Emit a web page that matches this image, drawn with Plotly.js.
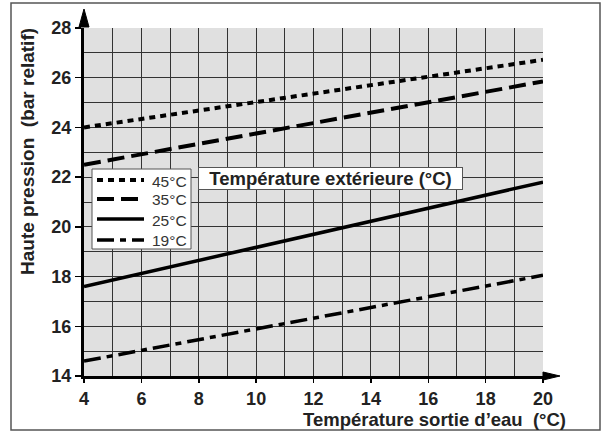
<!DOCTYPE html>
<html>
<head>
<meta charset="utf-8">
<script src="https://cdn.plot.ly/plotly-3.0.1.min.js"></script>
<style>html,body{margin:0;padding:0;background:#fff;}#chart{width:608px;height:432px;}</style>
</head>
<body>
<div id="chart"></div>
<script>
// Data
const waterTemp = [4, 20];
const seriesNames = ['45°C', '35°C', '25°C', '19°C'];
const p45 = [24.0, 26.72];
const p35 = [22.5, 25.85];
const p25 = [17.6, 21.8];
const p19 = [14.6, 18.05];
const xTicks = [4, 6, 8, 10, 12, 14, 16, 18, 20];
const yTicks = [14, 16, 18, 20, 22, 24, 26, 28];

// Styles
const dashes = ['6px,5px', '17px,7px', 'solid', '17px,6px,6px,6px'];
const widths = [4, 4, 3.5, 3.5];
const series = [p45, p35, p25, p19];

const traces = series.map((vals, i) => ({
  x: waterTemp, y: vals, name: seriesNames[i], type: 'scatter', mode: 'lines',
  line: {color: '#000', width: widths[i], dash: dashes[i]}, hoverinfo: 'skip', showlegend: false
}));

const font = 'Liberation Sans, Arial, Helvetica, sans-serif';
const L = 84, T = 28, pw = 459, ph = 348;
const px = v => (v - L) / pw;          // pixel -> paper x
const py = v => (T + ph - v) / ph;     // pixel -> paper y

const shapes = [
  // outer frame
  {type: 'rect', xref: 'paper', yref: 'paper', layer: 'below',
   x0: px(11), x1: px(600), y0: py(430), y1: py(3),
   line: {color: '#555', width: 1.5}, fillcolor: 'rgba(0,0,0,0)'},
  // legend box
  {type: 'rect', xref: 'paper', yref: 'paper', layer: 'above',
   x0: px(92), x1: px(191), y0: py(249), y1: py(169),
   line: {color: '#555', width: 1}, fillcolor: '#fff'},
  // y-axis arrowhead
  {type: 'path', xref: 'paper', yref: 'paper', xsizemode: 'pixel', ysizemode: 'pixel',
   xanchor: 0, yanchor: 1, layer: 'above',
   path: 'M-5,1 L0,19 L5,1 Z', fillcolor: '#000', line: {color: '#000', width: 1}},
  // x-axis arrowhead
  {type: 'path', xref: 'paper', yref: 'paper', xsizemode: 'pixel', ysizemode: 'pixel',
   xanchor: 1, yanchor: 0, layer: 'above',
   path: 'M0,-4 L17,0 L0,4 Z', fillcolor: '#000', line: {color: '#000', width: 1}}
];

const legendY = [180, 199, 219, 240];
const annotations = [
  {xref: 'paper', yref: 'paper', x: px(27), y: py(152), textangle: -90,
   xanchor: 'center', yanchor: 'middle',
   text: 'Haute pression  (bar relatif)', showarrow: false,
   font: {family: font, size: 19, color: '#222', weight: 'bold'}},
  {xref: 'paper', yref: 'paper', x: px(568), y: py(419), xanchor: 'right', yanchor: 'middle',
   text: 'Température sortie d’eau  (°C)', showarrow: false,
   font: {family: font, size: 18.5, color: '#222', weight: 'bold'}},
  {xref: 'paper', yref: 'paper', x: px(198), y: py(178), xanchor: 'left', yanchor: 'middle',
   text: '  Température extérieure (°C)  ', showarrow: false,
   bgcolor: '#fff', bordercolor: '#555', borderwidth: 1, borderpad: 0,
   font: {family: font, size: 18.5, color: '#222', weight: 'bold'}}
];

seriesNames.forEach((name, i) => {
  shapes.push({type: 'line', xref: 'paper', yref: 'paper', layer: 'above',
    x0: px(97), x1: px(144), y0: py(legendY[i]), y1: py(legendY[i]),
    line: {color: '#000', width: widths[i], dash: dashes[i]}});
  annotations.push({xref: 'paper', yref: 'paper', x: px(150), y: py(legendY[i] + 1),
    xanchor: 'left', yanchor: 'middle', text: name, showarrow: false,
    font: {family: font, size: 15.5, color: '#333'}});
});

const layout = {
  width: 608, height: 432,
  margin: {l: L, r: 608 - L - pw, t: T, b: 432 - T - ph},
  paper_bgcolor: '#fff', plot_bgcolor: '#e0e0e0',
  font: {family: font, color: '#222'},
  showlegend: false,
  xaxis: {
    range: [4, 20], tickvals: xTicks, ticktext: xTicks.map(String),
    showgrid: true, gridcolor: '#333', gridwidth: 1,
    minor: {dtick: 1, tick0: 4, showgrid: true, gridcolor: '#333', gridwidth: 1},
    showline: true, linecolor: '#000', linewidth: 3, zeroline: false,
    ticks: 'outside', ticklen: 4, tickwidth: 1.5, tickcolor: '#000',
    tickfont: {family: font, size: 18, color: '#222', weight: 'bold'},
    fixedrange: true
  },
  yaxis: {
    range: [14, 28], tickvals: yTicks, ticktext: yTicks.map(String),
    showgrid: true, gridcolor: '#333', gridwidth: 1,
    minor: {dtick: 1, tick0: 14, showgrid: true, gridcolor: '#333', gridwidth: 1},
    showline: true, linecolor: '#000', linewidth: 3, zeroline: false,
    ticks: 'outside', ticklen: 6, tickwidth: 1.5, tickcolor: '#000',
    tickfont: {family: font, size: 18, color: '#222', weight: 'bold'},
    fixedrange: true
  },
  shapes: shapes,
  annotations: annotations
};

Plotly.newPlot('chart', traces, layout, {staticPlot: true, displayModeBar: false});
</script>
</body>
</html>
